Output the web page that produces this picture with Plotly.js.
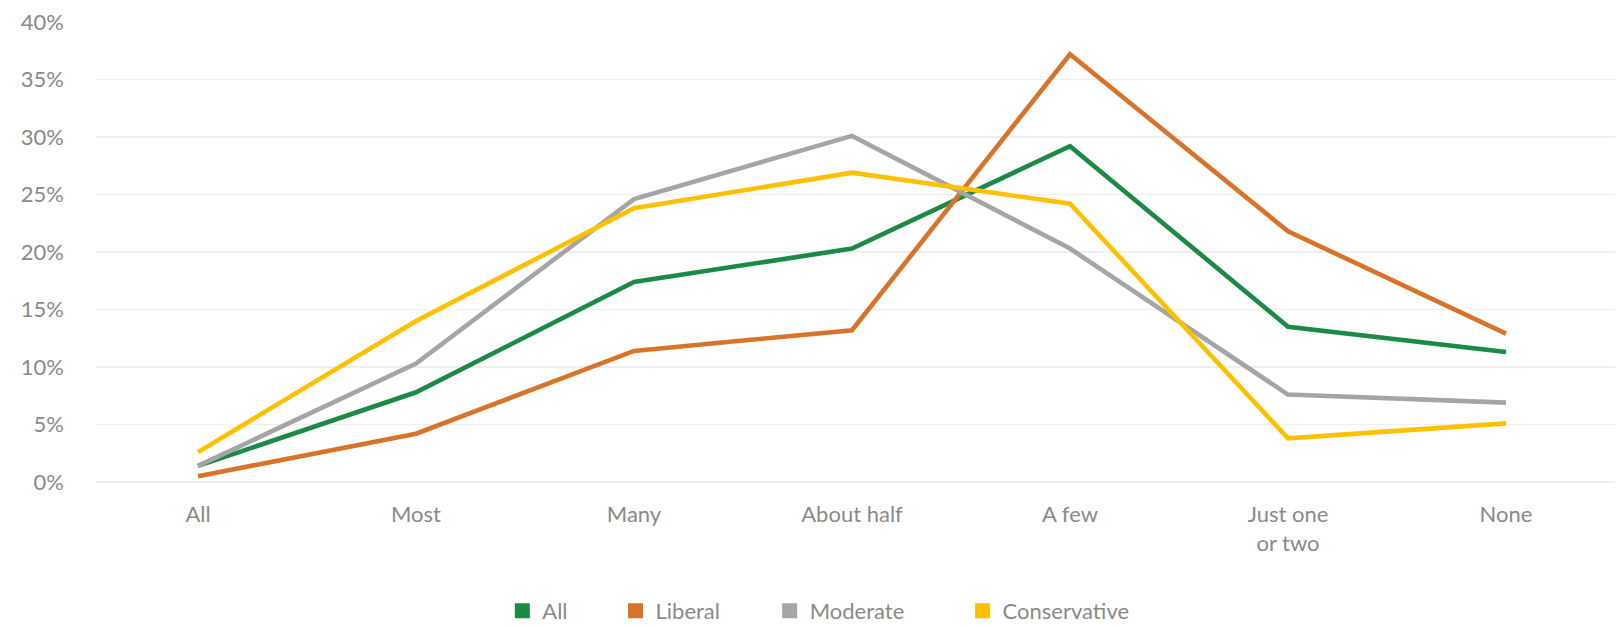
<!DOCTYPE html>
<html>
<head>
<meta charset="utf-8">
<script src="https://cdn.plot.ly/plotly-3.0.1.min.js"></script>
<style>html,body{margin:0;padding:0;background:#fff;}#chart{width:1619px;height:626px;}</style>
</head>
<body>
<div id="chart"></div>
<script>
const categories = ["All", "Most", "Many", "About half", "A few", "Just one<br>or two", "None"];
const seriesNames = ["All", "Liberal", "Moderate", "Conservative"];
const allValues = [1.4, 7.8, 17.4, 20.3, 29.2, 13.5, 11.3];
const liberalValues = [0.5, 4.2, 11.4, 13.2, 37.2, 21.8, 12.9];
const moderateValues = [1.4, 10.3, 24.6, 30.1, 20.3, 7.6, 6.9];
const conservativeValues = [2.6, 14.0, 23.8, 26.9, 24.2, 3.8, 5.1];
const yTicks = [0, 5, 10, 15, 20, 25, 30, 35, 40];

const colors = ["#1b8a44", "#d8742a", "#a5a5a5", "#ffc000"];
const values = [allValues, liberalValues, moderateValues, conservativeValues];
const legendIds = ["legend", "legend2", "legend3", "legend4"];
const legendX = [0.2675, 0.342, 0.4435, 0.5705];

const FONT = "Lato, 'Open Sans', sans-serif";
const TXT = "#8a8a86";

const traces = [];
values.forEach((v, i) => {
  traces.push({
    type: "scatter", mode: "lines", x: categories, y: v, name: seriesNames[i],
    line: {color: colors[i], width: 4.6}, showlegend: false, hoverinfo: "skip"
  });
});
values.forEach((v, i) => {
  traces.push({
    type: "scatter", mode: "markers", x: [null], y: [null], name: seriesNames[i],
    marker: {symbol: "square", size: 15, color: colors[i]},
    legend: legendIds[i], showlegend: true
  });
});

const layout = {
  width: 1619, height: 626,
  margin: {l: 96, r: 4, t: 22, b: 144},
  paper_bgcolor: "#ffffff", plot_bgcolor: "#ffffff",
  font: {family: FONT, size: 22, color: TXT},
  showlegend: true,
  xaxis: {
    type: "category", range: [-0.468, 6.5], automargin: false,
    showgrid: false, showline: false, zeroline: false, ticks: "",
    ticklabelstandoff: 17,
    tickfont: {family: FONT, size: 22, color: TXT}
  },
  yaxis: {
    range: [0, 40], tickvals: yTicks, ticktext: yTicks.map(t => t + "%"), automargin: false,
    showgrid: true, gridcolor: "#efefef", gridwidth: 1.3,
    zeroline: true, zerolinecolor: "#efefef", zerolinewidth: 1.3,
    showline: false, ticks: "", ticklabelstandoff: 31,
    tickfont: {family: FONT, size: 22, color: TXT}
  }
};
legendIds.forEach((id, i) => {
  layout[id] = {
    orientation: "h", x: legendX[i], xanchor: "left",
    yref: "container", y: 0.024, yanchor: "middle",
    font: {family: FONT, size: 22, color: TXT}, bgcolor: "rgba(0,0,0,0)", itemclick: false
  };
});

Plotly.newPlot("chart", traces, layout, {displayModeBar: false, staticPlot: true});
</script>
</body>
</html>
